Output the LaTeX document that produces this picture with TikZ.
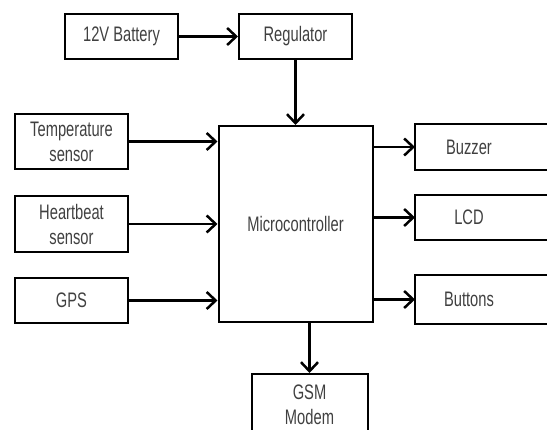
\documentclass[tikz,border=0pt]{standalone}
\usepackage{fontspec}
\setmainfont{Liberation Sans}[FakeStretch=0.7]
\usetikzlibrary{arrows.meta,positioning}

\begin{document}
\begin{tikzpicture}[
    x=1pt, y=-1pt,
    box/.style={draw, line width=2pt, minimum width=113pt, minimum height=45pt, align=center, text=black!75, font=\fontsize{21}{25}\selectfont},
    openbox/.style={box, draw=none, minimum width=106pt},
    arrow/.style={-{Straight Barb[length=9pt, width=17pt]}, line width=2.5pt}
]
\path[use as bounding box, clip] (0,0) rectangle (547,430);

% power
\node[box] (battery) at (121.5,36.5) {12V Battery};
\node[box, right=59pt of battery] (regulator) {Regulator};
\node[box, minimum width=154pt, minimum height=196pt, below=65pt of regulator] (mcu) {Microcontroller};

% inputs
\node[box, minimum height=55pt] (temp) at (71.5,141.5) {Temperature\\sensor};
\node[box, minimum height=56pt, below=25pt of temp] (heart) {Heartbeat\\sensor};
\node[box, below=24pt of heart] (gps) {GPS};

% outputs
\node[openbox, minimum height=44pt] (buzzer) at (469,147) {Buzzer};
\node[openbox, minimum height=43pt, below=25pt of buzzer] (lcd) {LCD};
\node[openbox, minimum height=47pt, below=35pt of lcd] (buttons) {Buttons};
\node[box, minimum width=116pt, minimum height=62pt, below=50pt of mcu, xshift=14pt] (gsm) {GSM\\Modem};

% right boxes run off the edge
\foreach \n in {buzzer,lcd,buttons}
  \draw[line width=2pt] ([xshift=40pt]\n.north east) -- (\n.north west) -- (\n.south west) -- ([xshift=40pt]\n.south east);

\draw[arrow] (battery) -- (regulator);
\draw[arrow] (regulator.south) -- (regulator.south |- mcu.north);
\draw[arrow] (temp) -- (temp -| mcu.west);
\draw[arrow] (heart) -- (heart -| mcu.west);
\draw[arrow] (gps) -- (gps -| mcu.west);
\draw[arrow] (mcu.east |- buzzer) -- (buzzer.west);
\draw[arrow] (mcu.east |- lcd) -- (lcd.west);
\draw[arrow] (mcu.east |- buttons) -- (buttons.west);
\draw[arrow] (mcu.south -| gsm) -- (gsm);
\end{tikzpicture}
\end{document}
